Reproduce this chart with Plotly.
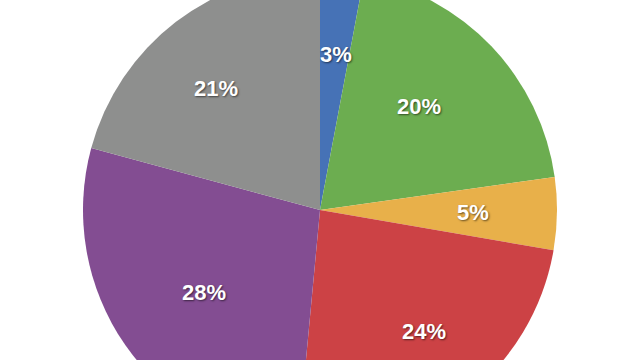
import math
import plotly.graph_objects as go

labels = ["Blue", "Green", "Yellow", "Red", "Purple", "Gray"]
values = [3, 20, 5, 24, 28, 21]
text_labels = ["3%", "20%", "5%", "24%", "28%", "21%"]
colors = ["#4672B6", "#6CAD50", "#E8B04A", "#CC4245", "#834D92", "#8E8F8E"]

W, H = 640, 474
R = min(W, H) / 2
LABEL_R = 0.72

fig = go.Figure(go.Pie(
    labels=labels,
    values=values,
    textinfo="none",
    sort=False,
    direction="clockwise",
    rotation=0,
    marker=dict(colors=colors, line=dict(width=0)),
    showlegend=False,
    hoverinfo="skip",
))

total = sum(values)
cum = 0
for v, t in zip(values, text_labels):
    mid = (cum + v / 2) / total * 2 * math.pi
    cum += v
    dx = math.sin(mid) * R * LABEL_R
    dy = math.cos(mid) * R * LABEL_R
    fig.add_annotation(
        x=0.5 + dx / W, y=0.5 + dy / H, xref="paper", yref="paper",
        text=t, showarrow=False,
        font=dict(family="Liberation Sans, Arial, sans-serif", size=22,
                  color="white", weight="bold",
                  shadow="1px 1px 2px rgba(0,0,0,0.55)"),
    )

fig.update_layout(
    width=W, height=H,
    margin=dict(l=0, r=0, t=0, b=0),
    paper_bgcolor="white",
    plot_bgcolor="white",
)

fig.write_html(
    "out.html",
    post_script="var d=document.getElementById('{plot_id}'); d.style.marginTop='-27px'; document.body.style.margin='0'; document.body.style.overflow='hidden';",
)
